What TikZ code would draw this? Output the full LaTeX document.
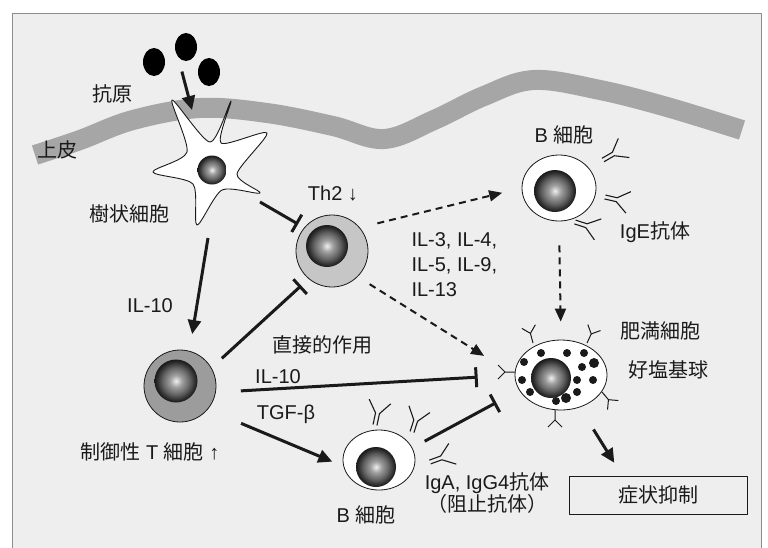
\documentclass[tikz,border=0pt]{standalone}
\usepackage{fontspec}
\setmainfont{Liberation Sans}
\newfontfamily\cjk{Noto Sans CJK JP}
\usepackage{tikz}
\usetikzlibrary{arrows.meta,positioning,shapes.geometric,calc}
\definecolor{ink}{HTML}{1A1A1A}
\definecolor{paper}{HTML}{EEEEEE}
\definecolor{rim}{HTML}{8C8C8C}
\definecolor{tissue}{HTML}{A6A6A6}
\definecolor{thring}{HTML}{C6C6C6}
\definecolor{tregring}{HTML}{9C9C9C}
\pgfdeclareradialshading{nucleus}{\pgfpoint{0bp}{0bp}}{color(0bp)=(gray!12); color(7bp)=(gray!75); color(16bp)=(black!62); color(22bp)=(black!82); color(25bp)=(black!90); color(50bp)=(black!90)}
\tikzset{
  antibody/.pic={\draw[ink,line width=1.1pt] (-2,0) -- (-2,-12) -- (-11,-24) (2,0) -- (2,-12) -- (11,-24);},
  receptor/.pic={\draw[ink,line width=1pt] (0,0) -- (0,-10) -- (-7,-17) (0,-10) -- (7,-17);}
}

\begin{document}
\begin{tikzpicture}[x=1pt,y=-1pt,line join=round,
  every node/.style={font=\fontsize{20}{24}\selectfont,text=ink},
  arr/.style={ink,line width=3pt,-{Triangle[length=14pt,width=13pt]}},
  dasharr/.style={ink,line width=2pt,dash pattern=on 7pt off 5pt,-{Triangle[length=13pt,width=11pt]}},
  inh/.style={ink,line width=3pt,-{Bar[width=20pt]}},
  tcell/.style={circle,draw=ink,line width=0.8pt,minimum size=72pt,inner sep=0pt},
  cellwall/.style={ellipse,draw=ink,fill=white,line width=0.8pt,inner sep=0pt},
  nuc/.style={circle,shade,shading=nucleus,inner sep=0pt}]
  \useasboundingbox (0,0) rectangle (768,547);
  \fill[white] (0,0) rectangle (768,547);
  \filldraw[fill=paper,draw=rim,line width=1pt] (12,13) rectangle (761,560);

  % epithelium and incoming antigen
  \draw[tissue,line width=20pt] plot[smooth,tension=0.6] coordinates {(35,155) (80,140) (133,120) (200,108) (267,113) (333,126) (384,139) (434,120) (484,96) (534,80) (600,90) (667,107) (742,130)};
  \foreach \n/\x/\y in {1/154/62, 2/186/47, 3/209/72}
    \node[ellipse,fill=black,minimum width=22pt,minimum height=28pt,inner sep=0pt] (ag\n) at (\x,\y) {};
  \node (lblAntigen) at (112,94) {\cjk 抗原};
  \node (lblEpi) at (57,150) {\cjk 上皮};

  % dendritic cell
  \draw[ink,fill=white,line width=0.9pt] plot[smooth cycle,tension=0.45] coordinates {(172,100) (210,142) (231,101) (221,143) (267,133) (237,174) (260,193) (222,190) (197,225) (193,184) (153,172) (187,152)};
  \node[nuc,minimum size=29pt] (dcnuc) at (212,170) {};
  \coordinate (dcTop) at (192,110);
  \coordinate (dcR) at (260,202);
  \coordinate (dcB) at (208,238);
  \node (lblDC) at (129,214) {\cjk 樹状細胞};

  % Th2 and regulatory T cells
  \node[tcell,fill=thring] (th2) at (332,251) {};
  \node[nuc,minimum size=42pt] (th2nuc) at (327,246) {};
  \node (lblTh2) at (333,194) {Th2 ↓};
  \node[tcell,fill=tregring] (treg) at (180,386) {};
  \node[nuc,minimum size=43pt] (tregnuc) at (176,381) {};
  \node (lblTreg) at (150,452) {{\cjk 制御性} T {\cjk 細胞} ↑};

  % B cells with their antibodies
  \node[cellwall,minimum width=74pt,minimum height=66pt] (bU) at (559,188) {};
  \node[nuc,minimum size=42pt] (bUnuc) at (555,191) {};
  \node (lblBU) at (564,135) {B {\cjk 細胞}};
  \foreach \x/\y/\a in {603/160/30, 605/197/-13, 575/222/-18}
    \pic[rotate=\a-90] at (\x,\y) {antibody};
  \node (lblIgE) at (655,232) {IgE{\cjk 抗体}};

  \node[cellwall,minimum width=72pt,minimum height=60pt] (bB) at (379,460) {};
  \node[nuc,minimum size=40pt] (bBnuc) at (376,467) {};
  \node (lblBB) at (366,515) {B {\cjk 細胞}};
  \foreach \x/\y/\a in {375/425/78, 412/432/72, 430/462/20}
    \pic[rotate=\a-90] at (\x,\y) {antibody};
  \node[align=center,font=\fontsize{20}{21}\selectfont] (lblBlock) at (487,493) {IgA, IgG4{\cjk 抗体}\\{\cjk （阻止抗体）}};

  % mast cell / basophil
  \node[cellwall,minimum width=92pt,minimum height=70pt] (mast) at (561,375) {};
  \node[nuc,minimum size=40pt] (mastnuc) at (551,378) {};
  \foreach \x/\y/\r in {541/353/4, 567/353/4, 584/353/4, 524/362/4, 594/363/5, 582/367/4, 522/380/4, 577/380/4, 593/380/4, 530/392/4, 577/392/4, 566/398/5, 556/401/4}
    \fill[ink] (\x,\y) circle (\r pt);
  \foreach \x/\y/\a in {533/343/105, 587/343/65, 515/372/180, 602/392/-50, 555/410/-90}
    \pic[rotate=\a-90] at (\x,\y) {receptor};
  \node (lblMast) at (660,331) {\cjk 肥満細胞};
  \node (lblBaso) at (668,370) {\cjk 好塩基球};
  \node[draw=ink,line width=1pt,minimum width=178pt,minimum height=38pt] (sym) at (658,495) {\cjk 症状抑制};

  % cytokine labels
  \node (lblIL10a) at (150,306) {IL-10};
  \node (lblDirect) at (322,345) {\cjk 直接的作用};
  \node (lblIL10b) at (278,377) {IL-10};
  \node (lblTGF) at (286,414) {TGF-β};
  \node[align=left,anchor=west,font=\fontsize{20}{25}\selectfont] (lblIL) at (408,265) {IL-3, IL-4,\\IL-5, IL-9,\\IL-13};

  % connectors
  \draw[arr,shorten <=15pt] (ag2.south west) -- (dcTop);
  \draw[inh,shorten >=7pt] (dcR) -- (th2.140);
  \draw[arr,shorten >=17pt] (dcB) -- (treg.75);
  \draw[inh,shorten <=14pt,shorten >=10pt] (treg.30) -- (th2.230);
  \draw[inh,shorten <=25pt,shorten >=37pt] (treg.-10) -- (mast.west);
  \draw[arr,shorten <=36pt,shorten >=12pt] (treg.-40) -- (bB.190);
  \draw[dasharr,shorten <=18pt,shorten >=20pt] (th2.40) -- (bU.west);
  \draw[dasharr,shorten <=14pt,shorten >=36pt] (th2.-45) -- (mast.west);
  \draw[dasharr,shorten <=24pt,shorten >=18pt] (bU.south) -- (mast.north);
  \draw[inh,shorten <=14pt,shorten >=26pt] (bB.20) -- (mast.200);
  \draw[arr,shorten <=26pt,shorten >=15pt] (mast.-60) -- ($(sym.north west)!0.3!(sym.north east)$);
\end{tikzpicture}
\end{document}
